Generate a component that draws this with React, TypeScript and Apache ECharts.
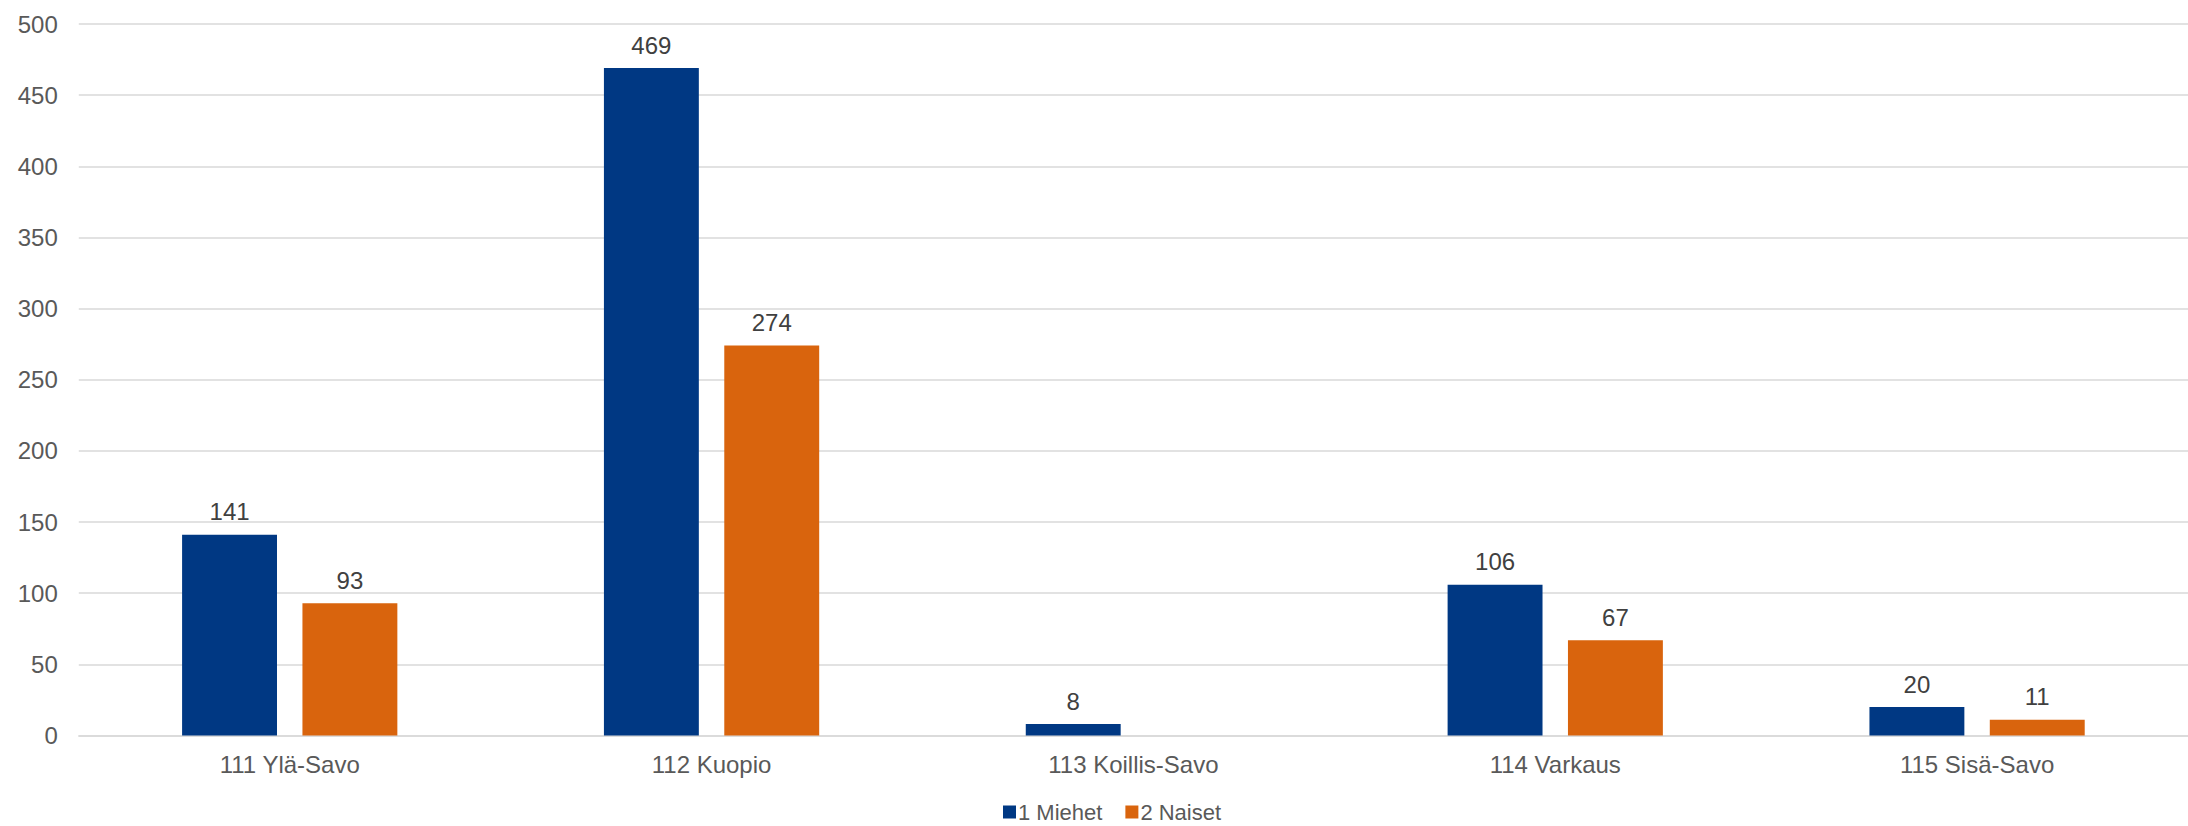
import React, { useEffect, useRef } from "react";
import * as echarts from "echarts";

const categories = ["111 Ylä-Savo", "112 Kuopio", "113 Koillis-Savo", "114 Varkaus", "115 Sisä-Savo"];
const seriesNames = ["1 Miehet", "2 Naiset"];
const miehet = [141, 469, 8, 106, 20];
const naiset: (number | null)[] = [93, 274, null, 67, 11];
const colors = ["#003883", "#D9640D"];

export default function App() {
  const ref = useRef<HTMLDivElement>(null);
  useEffect(() => {
    document.body.style.margin = "0";
    const chart = echarts.init(ref.current!, null, { renderer: "svg" });
    const font = "'Liberation Sans', Arial, sans-serif";
    const label = {
      show: true,
      position: "top" as const,
      distance: 11,
      color: "#404040",
      fontSize: 24,
      fontFamily: font,
    };
    chart.setOption({
      animation: false,
      backgroundColor: "#ffffff",
      color: colors,
      grid: { left: 78.8, width: 2125.5, top: 24, bottom: 90.5, containLabel: false },
      legend: {
        data: seriesNames,
        left: 1003,
        top: 801,
        padding: 0,
        itemWidth: 13,
        itemHeight: 13,
        itemGap: 23,
        icon: "rect",
        textStyle: { color: "#595959", fontSize: 22, lineHeight: 20, fontFamily: font, padding: [0, 0, 0, -3] },
      },
      xAxis: {
        type: "category",
        data: categories,
        axisLine: { show: true, lineStyle: { color: "#d9d9d9", width: 1.5 } },
        axisTick: { show: false },
        axisLabel: { color: "#595959", fontSize: 24, fontFamily: font, margin: 17 },
      },
      yAxis: {
        type: "value",
        min: 0,
        max: 500,
        interval: 50,
        axisLine: { show: false },
        axisTick: { show: false },
        axisLabel: { color: "#595959", fontSize: 24, fontFamily: font, margin: 21 },
        splitLine: { lineStyle: { color: "#d9d9d9", width: 1.5 } },
      },
      series: [
        {
          name: seriesNames[0],
          type: "bar",
          data: miehet,
          barWidth: "22.5%",
          barGap: "26.8%",
          label,
          itemStyle: { color: colors[0] },
        },
        {
          name: seriesNames[1],
          type: "bar",
          data: naiset,
          barWidth: "22.5%",
          label,
          itemStyle: { color: colors[1] },
        },
      ],
    });
    return () => chart.dispose();
  }, []);
  return (
    <div
      ref={ref}
      style={{ position: "absolute", left: 0, top: 0, width: 2188, height: 826, overflow: "hidden" }}
    />
  );
}
